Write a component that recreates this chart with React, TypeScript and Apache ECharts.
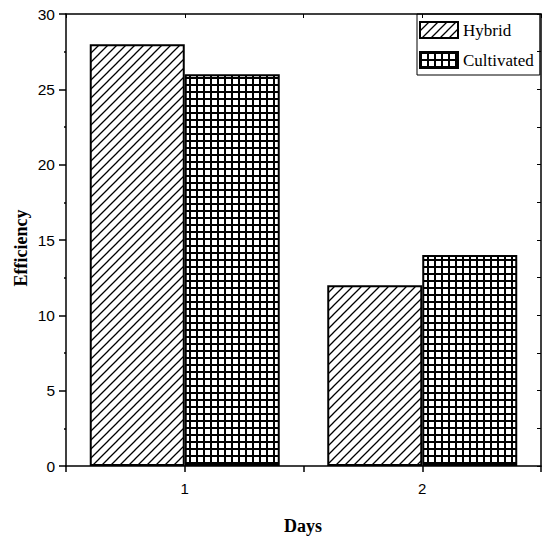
import React, { useEffect, useRef } from "react";
import * as echarts from "echarts";

const categories = ["1", "2"];
const hybridValues = [28, 12];
const cultivatedValues = [26, 14];
const yTicks = { min: 0, max: 30, interval: 5 };

function makeHatch(): HTMLCanvasElement {
  const s = 9;
  const c = document.createElement("canvas");
  c.width = s;
  c.height = s;
  const ctx = c.getContext("2d")!;
  ctx.fillStyle = "#fff";
  ctx.fillRect(0, 0, s, s);
  ctx.strokeStyle = "#000";
  ctx.lineWidth = 1.3;
  ctx.beginPath();
  ctx.moveTo(-1, s + 1);
  ctx.lineTo(s + 1, -1);
  ctx.moveTo(-2, 2);
  ctx.lineTo(2, -2);
  ctx.moveTo(s - 2, s + 2);
  ctx.lineTo(s + 2, s - 2);
  ctx.stroke();
  return c;
}

function makeGrid(): HTMLCanvasElement {
  const s = 7;
  const c = document.createElement("canvas");
  c.width = s;
  c.height = s;
  const ctx = c.getContext("2d")!;
  ctx.fillStyle = "#fff";
  ctx.fillRect(0, 0, s, s);
  ctx.fillStyle = "#000";
  ctx.fillRect(0, 0, s, 2);
  ctx.fillRect(0, 0, 2, s);
  return c;
}

export default function App() {
  const ref = useRef<HTMLDivElement>(null);
  useEffect(() => {
    if (!ref.current) return;
    const chart = echarts.init(ref.current, undefined, { renderer: "svg" });
    const hatch = { image: makeHatch(), repeat: "repeat", imageWidth: 9, imageHeight: 9 };
    const grid = { image: makeGrid(), repeat: "repeat", imageWidth: 7, imageHeight: 7 };
    const black = "#000";
    const sans = "Liberation Sans";
    const serif = "Liberation Serif";
    chart.setOption({
      animation: false,
      backgroundColor: "#fff",
      grid: { left: 66, right: 3, top: 14, bottom: 74, containLabel: false },
      legend: {
        left: 417,
        top: 14,
        orient: "vertical",
        align: "left",
        icon: "rect",
        itemWidth: 38,
        itemHeight: 16,
        itemGap: 12,
        padding: [7, 6, 6, 2],
        borderColor: black,
        borderWidth: 1,
        itemStyle: { borderColor: black, borderWidth: 2 },
        textStyle: { fontFamily: serif, fontSize: 17, color: black },
        data: ["Hybrid", "Cultivated"],
      },
      xAxis: [
        {
          type: "category",
          data: categories,
          position: "bottom",
          axisLine: { show: true, lineStyle: { color: black, width: 1.5 } },
          axisTick: { show: false },
          axisLabel: { color: black, fontFamily: sans, fontSize: 15, margin: 15 },
          splitLine: { show: false },
        },
        {
          type: "value",
          min: 0.5,
          max: 2.5,
          interval: 0.5,
          position: "bottom",
          axisLine: { show: false },
          axisTick: { show: true, inside: false, length: 6, lineStyle: { color: black, width: 1.5 } },
          axisLabel: { show: false },
          splitLine: { show: false },
        },
        {
          type: "value",
          min: 0.5,
          max: 2.5,
          interval: 0.5,
          position: "top",
          axisLine: { show: true, onZero: false, lineStyle: { color: black, width: 1.5 } },
          axisTick: { show: true, inside: true, length: 4, lineStyle: { color: black, width: 1 } },
          axisLabel: { show: false },
          splitLine: { show: false },
        },
      ],
      yAxis: [
        {
          type: "value",
          min: yTicks.min,
          max: yTicks.max,
          interval: yTicks.interval,
          position: "left",
          axisLine: { show: true, lineStyle: { color: black, width: 1.5 } },
          axisTick: { show: true, inside: false, length: 7, lineStyle: { color: black, width: 1.5 } },
          minorTick: { show: true, splitNumber: 2, length: 2, lineStyle: { color: black, width: 1.5 } },
          axisLabel: { color: black, fontFamily: sans, fontSize: 15.5, margin: 11 },
          splitLine: { show: false },
        },
        {
          type: "value",
          min: 0,
          max: 30,
          interval: 2.5,
          position: "right",
          axisLine: { show: true, onZero: false, lineStyle: { color: black, width: 1.5 } },
          axisTick: { show: true, inside: true, length: 4, lineStyle: { color: black, width: 1 } },
          axisLabel: { show: false },
          splitLine: { show: false },
        },
      ],
      graphic: [
        {
          type: "text",
          x: 21,
          y: 248,
          rotation: Math.PI / 2,
          style: {
            text: "Efficiency",
            fill: black,
            font: `bold 18px "${serif}"`,
            textAlign: "center",
            textVerticalAlign: "middle",
          },
        },
        {
          type: "text",
          x: 303,
          y: 526,
          style: {
            text: "Days",
            fill: black,
            font: `bold 18px "${serif}"`,
            textAlign: "center",
            textVerticalAlign: "middle",
          },
        },
      ],
      series: [
        {
          name: "Hybrid",
          type: "bar",
          xAxisIndex: 0,
          yAxisIndex: 0,
          data: hybridValues,
          barWidth: "40%",
          barGap: "0%",
          itemStyle: { color: hatch, borderColor: black, borderWidth: 2 },
        },
        {
          name: "Cultivated",
          type: "bar",
          xAxisIndex: 0,
          yAxisIndex: 0,
          data: cultivatedValues,
          barWidth: "40%",
          barGap: "0%",
          itemStyle: { color: grid, borderColor: black, borderWidth: 2 },
        },
      ],
    });
    return () => chart.dispose();
  }, []);
  return (
    <div
      ref={ref}
      style={{ position: "fixed", left: 0, top: 0, width: 544, height: 540 }}
    />
  );
}
